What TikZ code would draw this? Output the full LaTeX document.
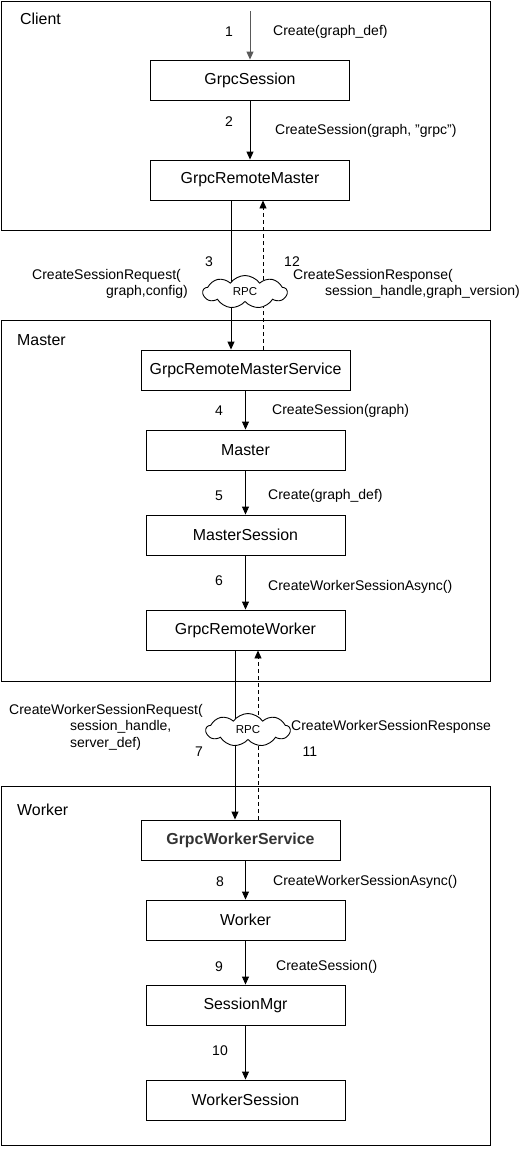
\documentclass[tikz,border=0pt]{standalone}
\usepackage{fontspec}
\setmainfont{Liberation Sans}
\usetikzlibrary{arrows.meta,shapes.symbols}

\begin{document}
\begin{tikzpicture}[x=1pt,y=-1pt,%
  frame/.style={draw,line width=0.9pt},
  block/.style={draw,line width=0.9pt,minimum width=199pt,minimum height=40pt,
    inner sep=0pt,font=\fontsize{15.9}{18}\selectfont},
  title/.style={anchor=west,inner sep=0pt,font=\fontsize{15.9}{18}\selectfont},
  lbl/.style={anchor=west,inner sep=0pt,align=left,font=\fontsize{14}{16.5}\selectfont},
  num/.style={inner sep=0pt,font=\fontsize{14}{16.5}\selectfont},
  flow/.style={line width=0.9pt,-{Triangle[length=8pt,width=7pt]}},
  reply/.style={flow,dash pattern=on 4pt off 3pt},
  rpc/.style={cloud,cloud puffs=9,cloud puff arc=110,aspect=2.5,draw,fill=white,
    line width=0.9pt,minimum width=84pt,minimum height=33pt,inner sep=0pt,
    font=\fontsize{11.5}{13}\selectfont}]
  \useasboundingbox (0,0) rectangle (521,1154);

  % the three process frames
  \draw[frame] (1,1) rectangle (490,230.5);
  \node[title] (client) at (20,19) {Client};
  \draw[frame] (1,320) rectangle (490,681);
  \node[title] (master) at (17,340) {Master};
  \draw[frame] (1,786) rectangle (490,1145.5);
  \node[title] (worker) at (17,810) {Worker};

  % boxes
  \node[block] (gs) at (250,80) {GrpcSession};
  \node[block] (grm) at (250,180) {GrpcRemoteMaster};
  \node[block,minimum width=209pt] (grms) at (245.5,370) {GrpcRemoteMasterService};
  \node[block] (mst) at (245.5,450) {Master};
  \node[block] (ms) at (245.5,535) {MasterSession};
  \node[block] (grw) at (245.5,630) {GrpcRemoteWorker};
  \node[block,text=black!80,font=\fontsize{15.9}{18}\selectfont\bfseries] (gws) at (240.5,840) {GrpcWorkerService};
  \node[block] (wk) at (245.5,920) {Worker};
  \node[block] (smgr) at (245.5,1005) {SessionMgr};
  \node[block] (wses) at (245.5,1100) {WorkerSession};

  % calls
  \coordinate (entry) at (250,11);
  \coordinate (req1) at (231,0);
  \coordinate (rsp1) at (263,0);
  \coordinate (req2) at (235,0);
  \coordinate (rsp2) at (258,0);
  \draw[flow,black!65] (entry) -- (gs);
  \draw[flow] (gs) -- (grm);
  \draw[flow] (grm.south -| req1) -- (grms.north -| req1);
  \draw[reply] (grms.north -| rsp1) -- (grm.south -| rsp1);
  \draw[flow] (grms) -- (mst);
  \draw[flow] (mst) -- (ms);
  \draw[flow] (ms) -- (grw);
  \draw[flow] (grw.south -| req2) -- (gws.north -| req2);
  \draw[reply] (gws.north -| rsp2) -- (grw.south -| rsp2);
  \draw[flow] (gws.south -| wk.north) -- (wk);
  \draw[flow] (wk) -- (smgr);
  \draw[flow] (smgr) -- (wses);

  \node[rpc] (rpc1) at (245,292) {RPC};
  \node[rpc] (rpc2) at (248,730) {RPC};

  % labels
  \node[num] (n1) at (229,32) {1};
  \node[lbl] (l1) at (273,32) {Create(graph\_def)};
  \node[num] (n2) at (229,122) {2};
  \node[lbl] (l2) at (275,131) {CreateSession(graph, "grpc")};
  \node[num] (n3) at (209,262) {3};
  \node[lbl] (l3) at (32,284) {CreateSessionRequest(\\\hspace*{74pt}graph,config)};
  \node[num] (n12) at (292,262) {12};
  \node[lbl] (l12) at (293,284) {CreateSessionResponse(\\\hspace*{32pt}session\_handle,graph\_version)};
  \node[num] (n4) at (219,411) {4};
  \node[lbl] (l4) at (272,411) {CreateSession(graph)};
  \node[num] (n5) at (219,496) {5};
  \node[lbl] (l5) at (268,496) {Create(graph\_def)};
  \node[num] (n6) at (219,581) {6};
  \node[lbl] (l6) at (268,587) {CreateWorkerSessionAsync()};
  \node[lbl] (l7) at (9,727) {CreateWorkerSessionRequest(\\\hspace*{61pt}session\_handle,\\\hspace*{61pt}server\_def)};
  \node[num] (n7) at (199,752) {7};
  \node[num] (n11) at (310,752) {11};
  \node[lbl] (l11) at (291,727) {CreateWorkerSessionResponse};
  \node[num] (n8) at (220,882) {8};
  \node[lbl] (l8) at (273,882) {CreateWorkerSessionAsync()};
  \node[num] (n9) at (219,967) {9};
  \node[lbl] (l9) at (276,967) {CreateSession()};
  \node[num] (n10) at (220,1051) {10};
\end{tikzpicture}
\end{document}
